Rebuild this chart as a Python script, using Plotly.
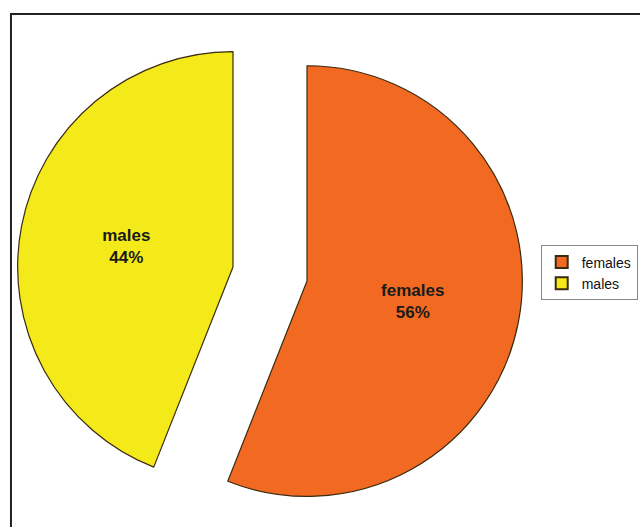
import plotly.graph_objects as go

labels = ["females", "males"]
values = [56, 44]
colors = ["#F26A22", "#F4EA1A"]

fig = go.Figure(
    go.Pie(
        labels=labels,
        values=values,
        sort=False,
        direction="clockwise",
        rotation=0,
        pull=[0.175, 0.175],
        marker=dict(colors=colors, line=dict(color="#3a2a10", width=1.2)),
        texttemplate="%{label}<br>%{percent}",
        textposition="inside",
        insidetextorientation="horizontal",
        insidetextfont=dict(family="Liberation Sans, Arial", size=17, color="#1a1a1a", weight="bold"),
        hoverinfo="label+percent",
    )
)

fig.update_layout(
    width=640,
    height=527,
    margin=dict(l=17, r=117, t=21, b=0, autoexpand=False),
    paper_bgcolor="white",
    plot_bgcolor="white",
    showlegend=True,
    legend=dict(
        x=1.035,
        xanchor="left",
        y=0.502,
        yanchor="middle",
        bordercolor="#888888",
        borderwidth=1,
        bgcolor="white",
        itemwidth=30,
        font=dict(family="Liberation Sans, Arial", size=14, color="#111111"),
        itemsizing="constant",
    ),
    shapes=[
        dict(type="line", xref="paper", yref="paper", x0=-0.0119, x1=-0.0119, y0=1.0138, y1=-0.02,
             line=dict(color="#222222", width=2)),
        dict(type="line", xref="paper", yref="paper", x0=-0.0139, x1=1.25, y0=1.0138, y1=1.0138,
             line=dict(color="#222222", width=2)),
    ],
)

fig.write_html("out.html")
